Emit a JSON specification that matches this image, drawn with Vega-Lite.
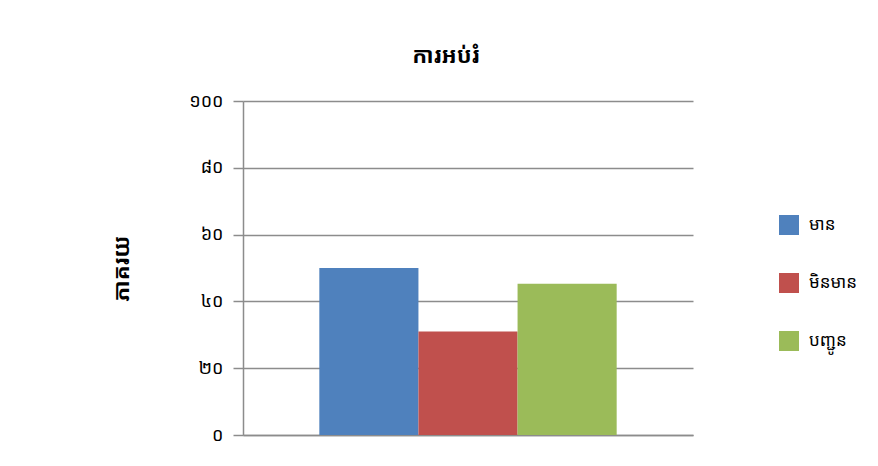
{
  "$schema": "https://vega.github.io/schema/vega-lite/v6.json",
  "autosize": "none",
  "width": 450,
  "height": 334,
  "padding": {"left": 243, "top": 101, "right": 185, "bottom": 31},
  "background": "white",
  "title": {
    "text": "ការអប់រំ",
    "fontSize": 22,
    "fontWeight": "bold",
    "color": "black",
    "font": "Noto Sans Khmer, Khmer OS, sans-serif",
    "anchor": "middle",
    "dx": -22,
    "offset": 24
  },
  "data": {
    "values": [
      {"category": "មាន", "value": 50},
      {"category": "មិនមាន", "value": 31},
      {"category": "បញ្ជូន", "value": 45.3}
    ]
  },
  "mark": {"type": "bar"},
  "encoding": {
    "x": {
      "field": "category",
      "type": "nominal",
      "sort": null,
      "scale": {"paddingInner": 0, "paddingOuter": 0.77},
      "axis": {"labels": false, "ticks": false, "title": null, "domainColor": "#8c8c8c", "domainWidth": 1.5}
    },
    "y": {
      "field": "value",
      "type": "quantitative",
      "scale": {"domain": [0, 100]},
      "axis": {
        "values": [0, 20, 40, 60, 80, 100],
        "title": "ភាគរយ",
        "titleFont": "Noto Sans Khmer, Khmer OS, sans-serif",
        "titleFontSize": 22,
        "titleFontWeight": "bold",
        "titleColor": "black",
        "titlePadding": 55,
        "labelExpr": "replace(replace(replace(replace(replace(replace(datum.label, regexp('0','g'), '០'), regexp('1','g'), '១'), regexp('2','g'), '២'), regexp('4','g'), '៤'), regexp('6','g'), '៦'), regexp('8','g'), '៨')",
        "labelFont": "Noto Sans Khmer, Khmer OS, sans-serif",
        "labelFontSize": 18,
        "labelColor": "black",
        "labelPadding": 10,
        "tickSize": 10,
        "tickColor": "#8c8c8c",
        "tickWidth": 1.5,
        "domainColor": "#8c8c8c",
        "domainWidth": 1.5,
        "gridColor": "#8c8c8c",
        "gridWidth": 1.5
      }
    },
    "color": {
      "field": "category",
      "type": "nominal",
      "sort": null,
      "scale": {"range": ["#4F81BD", "#C0504D", "#9BBB59"]},
      "legend": {
        "title": null,
        "orient": "none",
        "legendX": 536,
        "legendY": 114,
        "symbolType": "square",
        "symbolSize": 400,
        "symbolStrokeWidth": 0,
        "labelFont": "Noto Sans Khmer, Khmer OS, sans-serif",
        "labelFontSize": 17,
        "labelColor": "black",
        "labelOffset": 10,
        "rowPadding": 38
      }
    }
  },
  "config": {"view": {"stroke": null}}
}
